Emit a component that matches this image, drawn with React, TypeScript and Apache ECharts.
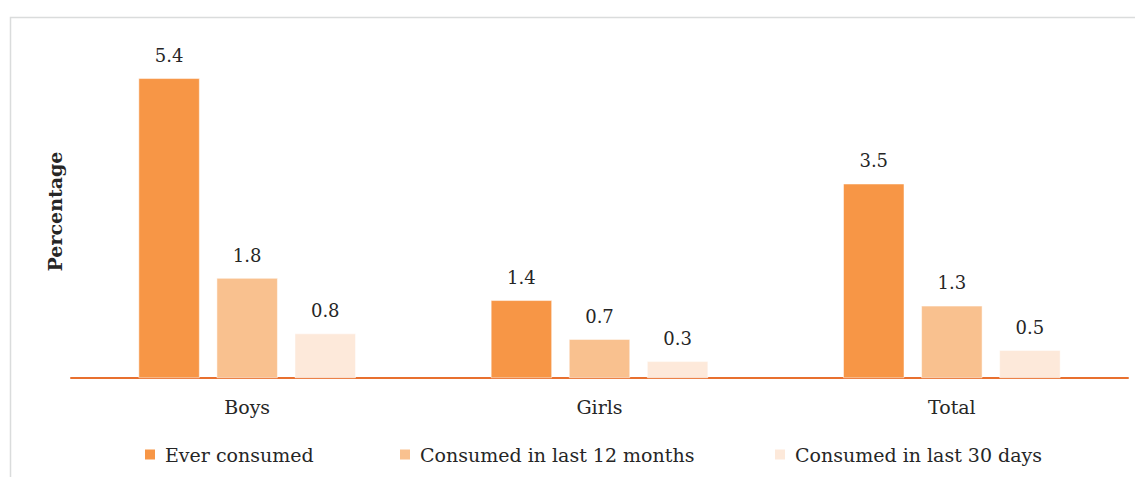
import React, { useEffect, useRef } from "react";
import * as echarts from "echarts";

const categories = ["Boys", "Girls", "Total"];
const seriesNames = ["Ever consumed", "Consumed in last 12 months", "Consumed in last 30 days"];
const everConsumed = [5.4, 1.4, 3.5];
const last12Months = [1.8, 0.7, 1.3];
const last30Days = [0.8, 0.3, 0.5];
const colors = ["#F79646", "#F9C18F", "#FDE9DA"];

const FONT = "DejaVu Serif";

export default function App() {
  const ref = useRef<HTMLDivElement>(null);
  useEffect(() => {
    document.body.style.margin = "0";
    const chart = echarts.init(ref.current!, undefined, { renderer: "svg" });
    const values = [everConsumed, last12Months, last30Days];
    const legendLefts = [138, 393, 768];
    chart.setOption({
      animation: false,
      backgroundColor: "#ffffff",
      textStyle: { fontFamily: FONT },
      graphic: [
        {
          type: "rect",
          shape: { x: 10.5, y: 17.5, width: 1140, height: 480 },
          style: { fill: "none", stroke: "#DADCDC", lineWidth: 1.5 },
          silent: true,
        },
      ],
      grid: { left: 71, right: 7, top: 45, bottom: 99 },
      legend: seriesNames.map((n, i) => ({
        data: [n],
        left: legendLefts[i],
        top: 440,
        itemWidth: 12,
        itemHeight: 12,
        icon: "rect",
        itemGap: 0,
        textStyle: { fontFamily: FONT, fontSize: 19, color: "#262626", padding: [0, 0, 0, 4] },
      })),
      xAxis: {
        type: "category",
        data: categories,
        axisLine: { show: true, lineStyle: { color: "#E8702F", width: 2 } },
        axisTick: { show: false },
        axisLabel: { fontFamily: FONT, fontSize: 19, color: "#262626", margin: 19 },
      },
      yAxis: {
        type: "value",
        min: 0,
        max: 6,
        show: true,
        axisLine: { show: false },
        axisTick: { show: false },
        axisLabel: { show: false },
        splitLine: { show: false },
        name: "Percentage",
        nameLocation: "middle",
        nameGap: 7,
        nameTextStyle: { fontFamily: FONT, fontSize: 19, fontWeight: "bold", color: "#262626" },
      },
      series: seriesNames.map((n, i) => ({
        name: n,
        type: "bar",
        data: values[i],
        barWidth: 61,
        barGap: "28%",
        itemStyle: { color: colors[i], borderColor: "#ffffff", borderWidth: 0.5 },
        label: {
          show: true,
          position: "top",
          distance: 14,
          fontFamily: FONT,
          fontSize: 18,
          color: "#262626",
          formatter: (p: any) => p.value.toFixed(1),
        },
      })),
    });
    return () => chart.dispose();
  }, []);
  return <div ref={ref} style={{ width: 1135, height: 477 }} />;
}
